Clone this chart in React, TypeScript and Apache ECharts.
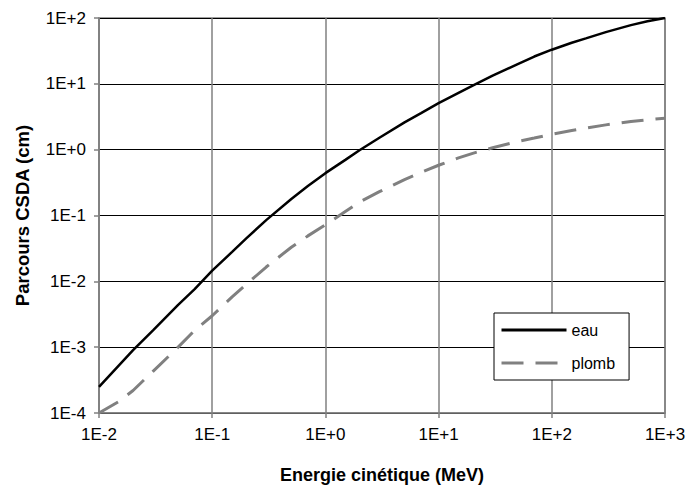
import React, { useEffect, useRef } from "react";
import * as echarts from "echarts";

const energies = [0.01, 0.015, 0.02, 0.03, 0.05, 0.07, 0.1, 0.15, 0.2, 0.3, 0.5, 0.7, 1, 1.5, 2, 3, 5, 7, 10, 15, 20, 30, 50, 70, 100, 150, 200, 300, 500, 700, 1000];
const eauValues = [2.5e-4, 5.3e-4, 9.0e-4, 1.8e-3, 4.4e-3, 7.6e-3, 1.45e-2, 2.8e-2, 4.5e-2, 8.5e-2, 0.178, 0.28, 0.44, 0.7, 0.98, 1.52, 2.6, 3.6, 5.1, 7.3, 9.4, 13.3, 20, 26, 33, 42, 49, 61, 78, 89, 100];
const plombValues = [1.0e-4, 1.5e-4, 2.2e-4, 4.3e-4, 1.0e-3, 1.8e-3, 3.0e-3, 5.8e-3, 9.0e-3, 1.65e-2, 3.3e-2, 4.9e-2, 7.2e-2, 0.115, 0.16, 0.23, 0.35, 0.45, 0.58, 0.75, 0.88, 1.07, 1.33, 1.5, 1.72, 1.95, 2.12, 2.38, 2.68, 2.85, 3.0];
const seriesNames = ["eau", "plomb"];
const xTitle = "Energie cinétique (MeV)";
const yTitle = "Parcours CSDA (cm)";

const FONT = "Liberation Sans, Arial, sans-serif";

function sci(v: number): string {
  const e = Math.round(Math.log10(v));
  return "1E" + (e >= 0 ? "+" + e : String(e));
}

export default function App() {
  const ref = useRef<HTMLDivElement>(null);
  useEffect(() => {
    if (!ref.current) return;
    const chart = echarts.init(ref.current, undefined, { renderer: "svg" });
    const axisCommon = {
      axisLine: { show: true, lineStyle: { color: "#808080", width: 1.5 } },
      axisTick: { show: true, inside: false, length: 5, lineStyle: { color: "#808080", width: 1.5 } },
      axisLabel: { color: "#000", fontSize: 17, fontFamily: FONT, formatter: (v: number) => sci(v) },
      minorTick: { show: false },
      minorSplitLine: { show: false },
    };
    chart.setOption({
      animation: false,
      backgroundColor: "#fff",
      grid: {
        left: 99,
        right: 22,
        top: 18,
        bottom: 75,
        show: true,
        borderColor: "#808080",
        borderWidth: 1.5,
        backgroundColor: "#fff",
        outerBoundsMode: "none",
        containLabel: false,
      },
      xAxis: {
        type: "log",
        logBase: 10,
        min: 0.01,
        max: 1000,
        name: xTitle,
        nameLocation: "middle",
        nameGap: 53,
        nameTextStyle: { color: "#000", fontSize: 18, fontWeight: "bold", fontFamily: FONT },
        ...axisCommon,
        axisLabel: { ...axisCommon.axisLabel, margin: 13 },
        splitLine: { show: true, lineStyle: { color: "#808080", width: 1.5 } },
      },
      yAxis: {
        type: "log",
        logBase: 10,
        min: 1e-4,
        max: 100,
        name: yTitle,
        nameLocation: "middle",
        nameGap: 67,
        nameTextStyle: { color: "#000", fontSize: 18.5, fontWeight: "bold", fontFamily: FONT },
        ...axisCommon,
        axisLabel: { ...axisCommon.axisLabel, margin: 13 },
        splitLine: { show: true, lineStyle: { color: "#000", width: 1 } },
      },
      legend: {
        orient: "vertical",
        left: 494,
        top: 313,
        padding: [9, 14, 9, 6],
        itemGap: 17,
        itemWidth: 65,
        itemHeight: 14,
        borderColor: "#000",
        borderWidth: 1,
        backgroundColor: "#fff",
        itemStyle: { opacity: 0 },
        lineStyle: { width: 3 },
        textStyle: { color: "#000", fontSize: 16, fontFamily: FONT },
        data: seriesNames,
      },
      series: [
        {
          name: seriesNames[0],
          type: "line",
          symbol: "none",
          data: energies.map((e, i) => [e, eauValues[i]]),
          lineStyle: { color: "#000", width: 2.5 },
          itemStyle: { color: "#000" },
          z: 3,
        },
        {
          name: seriesNames[1],
          type: "line",
          symbol: "none",
          data: energies.map((e, i) => [e, plombValues[i]]),
          lineStyle: { color: "#808080", width: 3, type: [22, 12] },
          itemStyle: { color: "#808080" },
          z: 2,
        },
      ],
    });
    return () => chart.dispose();
  }, []);
  return (
    <div
      ref={ref}
      style={{ position: "fixed", left: 0, top: 0, width: 687, height: 488, background: "#fff" }}
    />
  );
}
